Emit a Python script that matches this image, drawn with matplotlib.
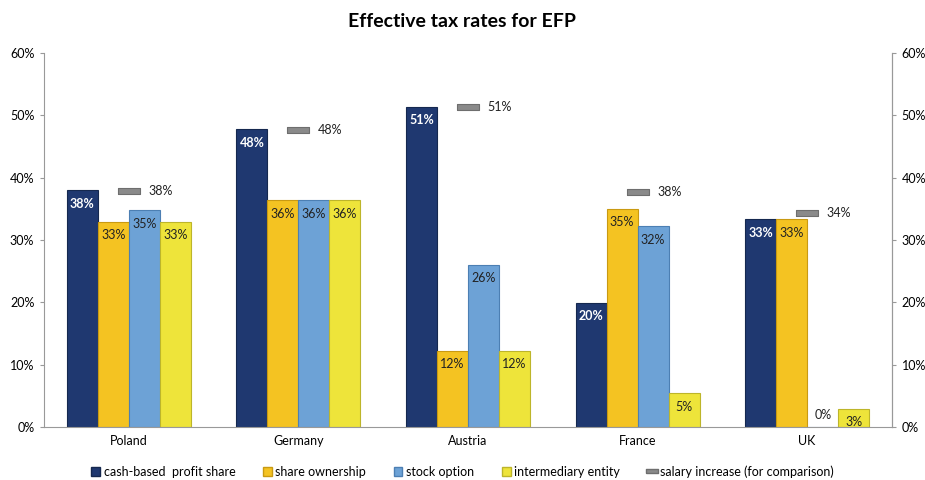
import matplotlib
matplotlib.use("Agg")
import matplotlib.pyplot as plt
import numpy as np
from matplotlib.patches import Patch
from matplotlib.lines import Line2D

plt.rcParams['font.family'] = ['Lato', 'DejaVu Sans']

countries = ["Poland", "Germany", "Austria", "France", "UK"]
series_names = ["cash-based  profit share", "share ownership", "stock option", "intermediary entity"]
cash = [38.0, 47.8, 51.4, 19.9, 33.3]
share = [32.9, 36.4, 12.2, 35.0, 33.3]
stock = [34.8, 36.4, 26.0, 32.2, 0.0]
inter = [32.9, 36.4, 12.2, 5.4, 2.9]
salary = [37.9, 47.6, 51.4, 37.7, 34.4]
salary_name = "salary increase (for comparison)"
yticks = [0, 10, 20, 30, 40, 50, 60]

colors = ["#1F3870", "#F4C322", "#6DA2D6", "#EEE43A"]
edges = ["#15284F", "#C99A12", "#4C7FB3", "#BDB52A"]
label_colors = ["white", "#222222", "#222222", "#222222"]
label_weights = ["bold", "normal", "normal", "normal"]
salary_color = "#8A8A8A"

fig = plt.figure(figsize=(9.25, 4.8), dpi=100)
ax = fig.add_axes([0.0476, 0.1104, 0.9167, 0.7792])

x = np.arange(len(countries))
w = 0.183
data = [cash, share, stock, inter]
for i, vals in enumerate(data):
    offs = (i - 1.5) * w
    ax.bar(x + offs, vals, width=w, color=colors[i], edgecolor=edges[i], linewidth=0.8, zorder=2)
    for xi, v in zip(x, vals):
        if v < 1:
            ax.text(xi + offs, v + 0.9, f"{v:.0f}%", ha="center", va="bottom",
                    fontsize=9, color="#222222")
        else:
            ax.text(xi + offs, v - 1.2, f"{v:.0f}%", ha="center", va="top",
                    fontsize=9, color=label_colors[i], fontweight=label_weights[i], zorder=3)

rect_marker = [(-1.8, -0.5), (1.8, -0.5), (1.8, 0.5), (-1.8, 0.5), (-1.8, -0.5)]
ax.plot(x, salary, linestyle="none", marker=rect_marker, markersize=16,
        markerfacecolor=salary_color, markeredgecolor="#6E6E6E", markeredgewidth=0.8, zorder=4)
for xi, v in zip(x, salary):
    ax.annotate(f"{v:.0f}%", (xi, v), xytext=(14, 0), textcoords="offset points",
                ha="left", va="center", fontsize=9, color="#222222")

ax.set_xlim(-0.5, len(countries) - 0.5)
ax.set_ylim(0, 60)
ax.set_yticks(yticks)
ax.set_yticklabels([f"{t}%" for t in yticks], fontsize=9)
ax.set_xticks(x)
ax.set_xticklabels(countries, fontsize=9)
ax.tick_params(axis="x", length=0, pad=6)
ax.tick_params(axis="y", length=3, color="#999999", pad=4)
ax.spines["top"].set_visible(False)
for s in ["left", "right", "bottom"]:
    ax.spines[s].set_color("#999999")

ax2 = ax.twinx()
ax2.set_ylim(0, 60)
ax2.set_yticks(yticks)
ax2.set_yticklabels([f"{t}%" for t in yticks], fontsize=9)
ax2.tick_params(axis="y", length=3, color="#999999", pad=4)
for s in ["top", "left", "bottom"]:
    ax2.spines[s].set_visible(False)
ax2.spines["right"].set_color("#999999")

fig.text(0.5, 0.955, "Effective tax rates for EFP", ha="center", va="center",
         fontsize=14, fontweight="bold")

handles = [Patch(facecolor=colors[i], edgecolor=edges[i], label=series_names[i]) for i in range(4)]
handles.append(Line2D([0], [0], linestyle="none", marker=rect_marker, markersize=9,
                      markerfacecolor=salary_color, markeredgecolor="#6E6E6E", label=salary_name))
fig.legend(handles=handles, loc="center", bbox_to_anchor=(0.5, 0.018), ncol=5, frameon=False,
           fontsize=9, handlelength=0.7, handleheight=0.7, handletextpad=0.3, columnspacing=2.2)

fig.savefig("out.png", dpi=100)
